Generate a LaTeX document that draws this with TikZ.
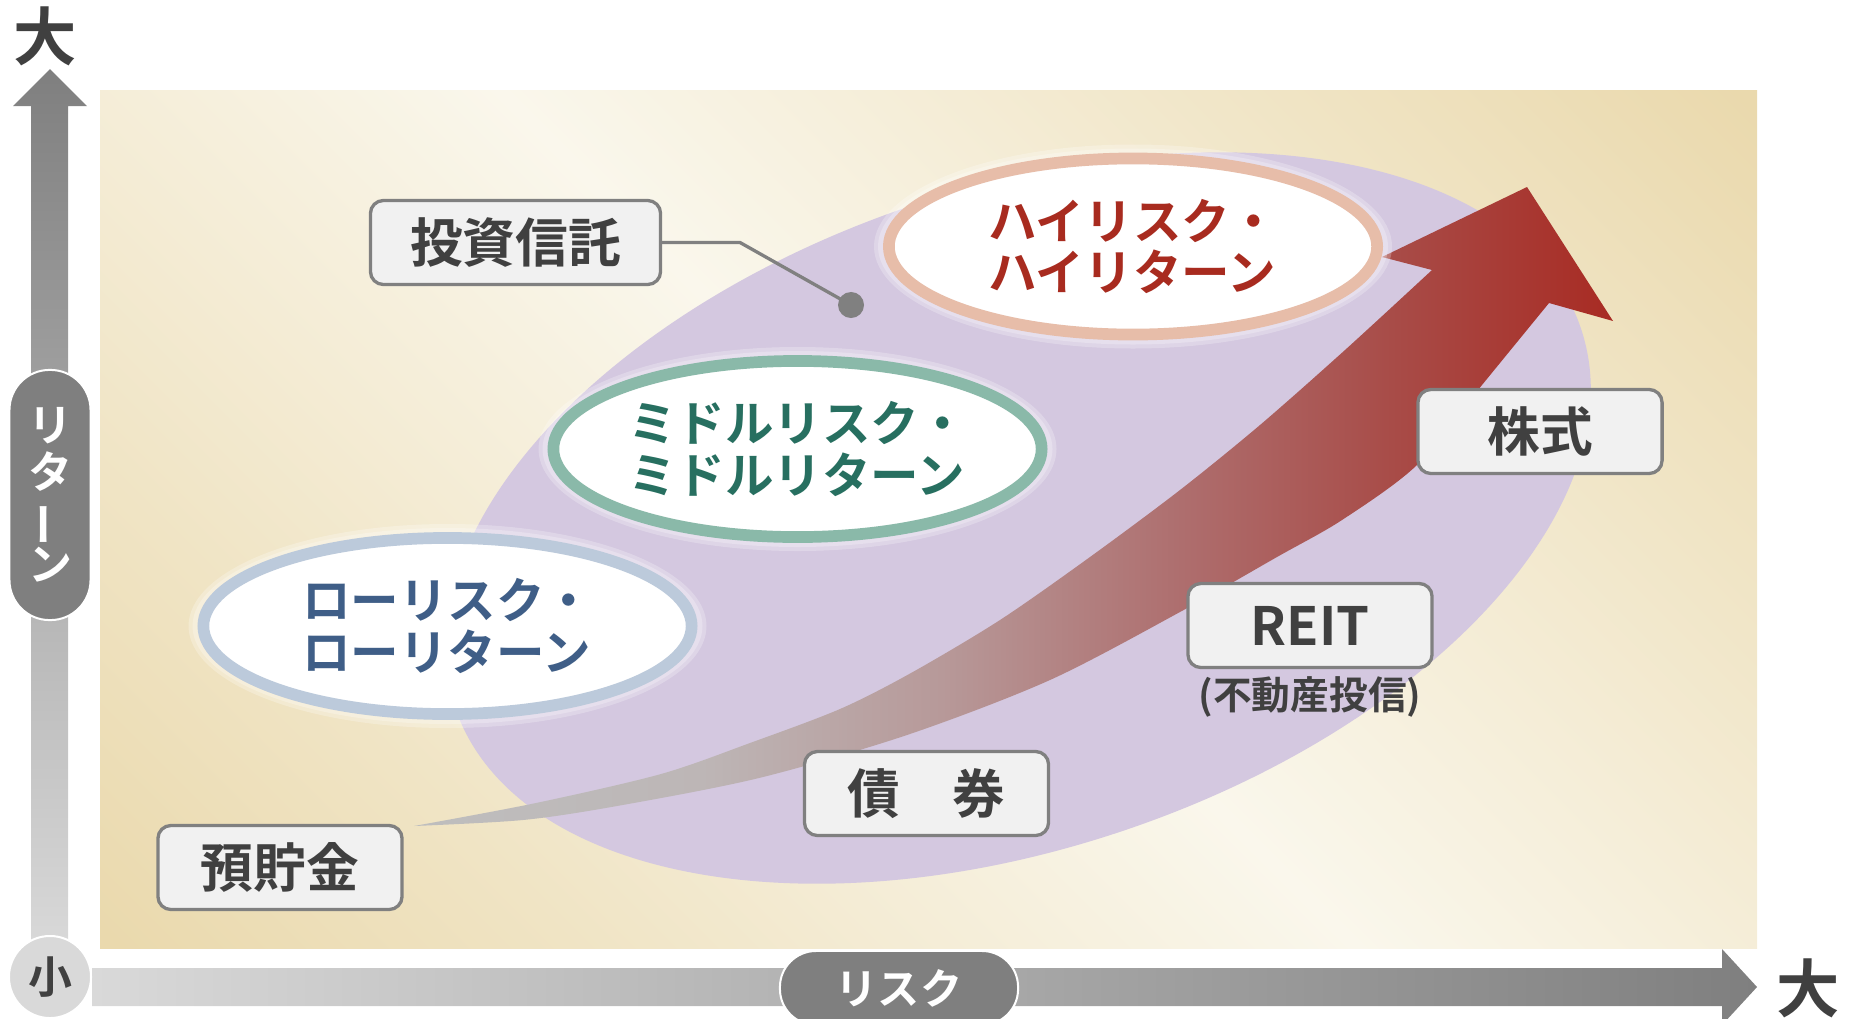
\documentclass[tikz,border=0pt]{standalone}
\usepackage{fontspec}
\usepackage{graphicx}
\setmainfont{Noto Sans CJK JP}[BoldFont={Noto Sans CJK JP Bold}]
\usetikzlibrary{shapes.geometric}
\definecolor{bgtan}{HTML}{EAD9AD}
\definecolor{bglight}{HTML}{FAF7EC}
\definecolor{purp}{HTML}{D4C8E0}
\definecolor{boxfill}{HTML}{F1F1F1}
\definecolor{boxline}{HTML}{808080}
\definecolor{txt}{HTML}{404040}
\definecolor{hiring}{HTML}{E7BDA9}
\definecolor{hitxt}{HTML}{A82B1F}
\definecolor{midring}{HTML}{8AB9A9}
\definecolor{midtxt}{HTML}{276F60}
\definecolor{loring}{HTML}{BCCADB}
\definecolor{lotxt}{HTML}{3F5E87}
\definecolor{axdark}{HTML}{7F7F7F}
\definecolor{axlight}{HTML}{D9D9D9}
\definecolor{agA}{HTML}{BEBEBE}
\definecolor{agB}{HTML}{BDB6B6}
\definecolor{agC}{HTML}{B79999}
\definecolor{agD}{HTML}{AE6E6E}
\definecolor{agE}{HTML}{A84B47}
\definecolor{agF}{HTML}{A82B23}
\pgfdeclarehorizontalshading{bgshade}{100bp}{color(0bp)=(bgtan); color(15bp)=(bgtan); color(50bp)=(bglight); color(85bp)=(bgtan); color(100bp)=(bgtan)}
\pgfdeclarehorizontalshading{redarrow}{100bp}{color(0bp)=(agA); color(25bp)=(agA); color(37bp)=(agB); color(47bp)=(agC); color(57bp)=(agD); color(66bp)=(agE); color(75bp)=(agF); color(100bp)=(agF)}
\begin{document}
\begin{tikzpicture}[x=0.01cm,y=-0.01cm,
  lbl/.style={draw=boxline, line width=0.033cm, fill=boxfill, rounded corners=0.13cm,
    minimum width=2.44cm, minimum height=0.84cm, text=txt, inner sep=0,
    font=\bfseries\fontsize{15}{18}\selectfont},
  ring/.style={ellipse, fill=white, line width=0.117cm, minimum width=4.88cm,
    minimum height=1.76cm, inner sep=0, align=left,
    font=\bfseries\fontsize{13.8}{14.65}\selectfont},
  glow/.style={fill=white, opacity=0.25},
  axtxt/.style={text=txt, inner sep=0, font=\bfseries\fontsize{18}{20}\selectfont}]
\useasboundingbox (0,0) rectangle (1852,1018);
% background
\shade[shading=bgshade, shading angle=45] (100,90) rectangle (1757,948);
% purple ellipse
\fill[purp, rotate around={18.6:(1018,518)}] (1018,518) ellipse [x radius=594, y radius=330];
% investment-trust connector
\node[circle, fill=boxline, minimum size=0.26cm, inner sep=0] (dot) at (851,305) {};
\node[lbl, minimum width=2.9cm] (toshi) at (515.5,242.5) {投資信託};
\coordinate (bend) at (740,242.5);
\draw[boxline, line width=0.033cm] (toshi.east) -- (bend) -- (dot.center);
% big arrow
\shade[shading=redarrow]
  plot[smooth] coordinates {(414,826) (536,803) (661,774) (750,743) (840,709) (911,673) (1000,620) (1090,557) (1180,490) (1260,425) (1345,350) (1432,270)}
  -- (1382,257) -- (1527,187) -- (1613,321) -- (1549,303)
  -- plot[smooth] coordinates {(1549,303) (1482,385) (1417,465) (1342,520) (1277,557) (1180,612) (1050,680) (907,735) (759,778) (617,806) (523,820) (414,826)}
  -- cycle;
% risk/return ellipses
\foreach \cx/\cy in {1133/246.5, 797.5/449, 447.5/626}{
  \fill[glow] (\cx,\cy) ellipse [x radius=259, y radius=102];
  \fill[glow] (\cx,\cy) ellipse [x radius=255, y radius=98];
}
\node[ring, draw=hiring, text=hitxt] (high) at (1133,246.5) {ハイリスク・\\ハイリターン};
\node[ring, draw=midring, text=midtxt] (mid) at (797.5,449) {ミドルリスク・\\ミドルリターン};
\node[ring, draw=loring, text=lotxt] (low) at (447.5,626) {ローリスク・\\ローリターン};
% product boxes
\node[lbl] (kabu) at (1540,431.5) {株式};
\node[lbl] (reit) at (1310,625.5) {REIT};
\node[text=txt, inner sep=0, font=\bfseries\fontsize{11}{13}\selectfont, anchor=north] (reitsub) at (reit.south) [yshift=-0.07cm] {(不動産投信)};
\node[lbl] (saiken) at (926.5,793.5) {債　券};
\node[lbl] (yocho) at (280,867.5) {預貯金};
% axes
\shade[top color=axdark, bottom color=axlight] (31,950) -- (31,106) -- (13,106) -- (50,69) -- (87,106) -- (68,106) -- (68,950) -- cycle;
\shade[left color=axlight, right color=axdark] (92,968) -- (1722,968) -- (1722,949) -- (1757,987) -- (1722,1025) -- (1722,1006) -- (92,1006) -- cycle;
\node[axtxt] (bigtop) at (45,36) {大};
\node[axtxt] (bigright) at (1808,988) {大};
\node[draw=white, line width=0.02cm, fill=axdark, rounded corners=0.4cm, minimum width=0.81cm,
  minimum height=2.5cm, text=white, inner sep=0, align=center,
  font=\bfseries\fontsize{12.5}{13.2}\selectfont] (ret) at (50,495)
  {リ\\タ\\\rotatebox[origin=c]{90}{ー}\\ン};
\node[circle, fill=axlight, draw=white, line width=0.02cm, minimum size=0.82cm, inner sep=0,
  text=txt, font=\bfseries\fontsize{12.5}{14}\selectfont] (small) at (50,977) {小};
\node[draw=white, line width=0.02cm, fill=axdark, rounded corners=0.36cm, minimum width=2.38cm,
  minimum height=0.74cm, text=white, inner sep=0,
  font=\bfseries\fontsize{12}{14}\selectfont] (risk) at (899,988) {リスク};
\end{tikzpicture}
\end{document}
